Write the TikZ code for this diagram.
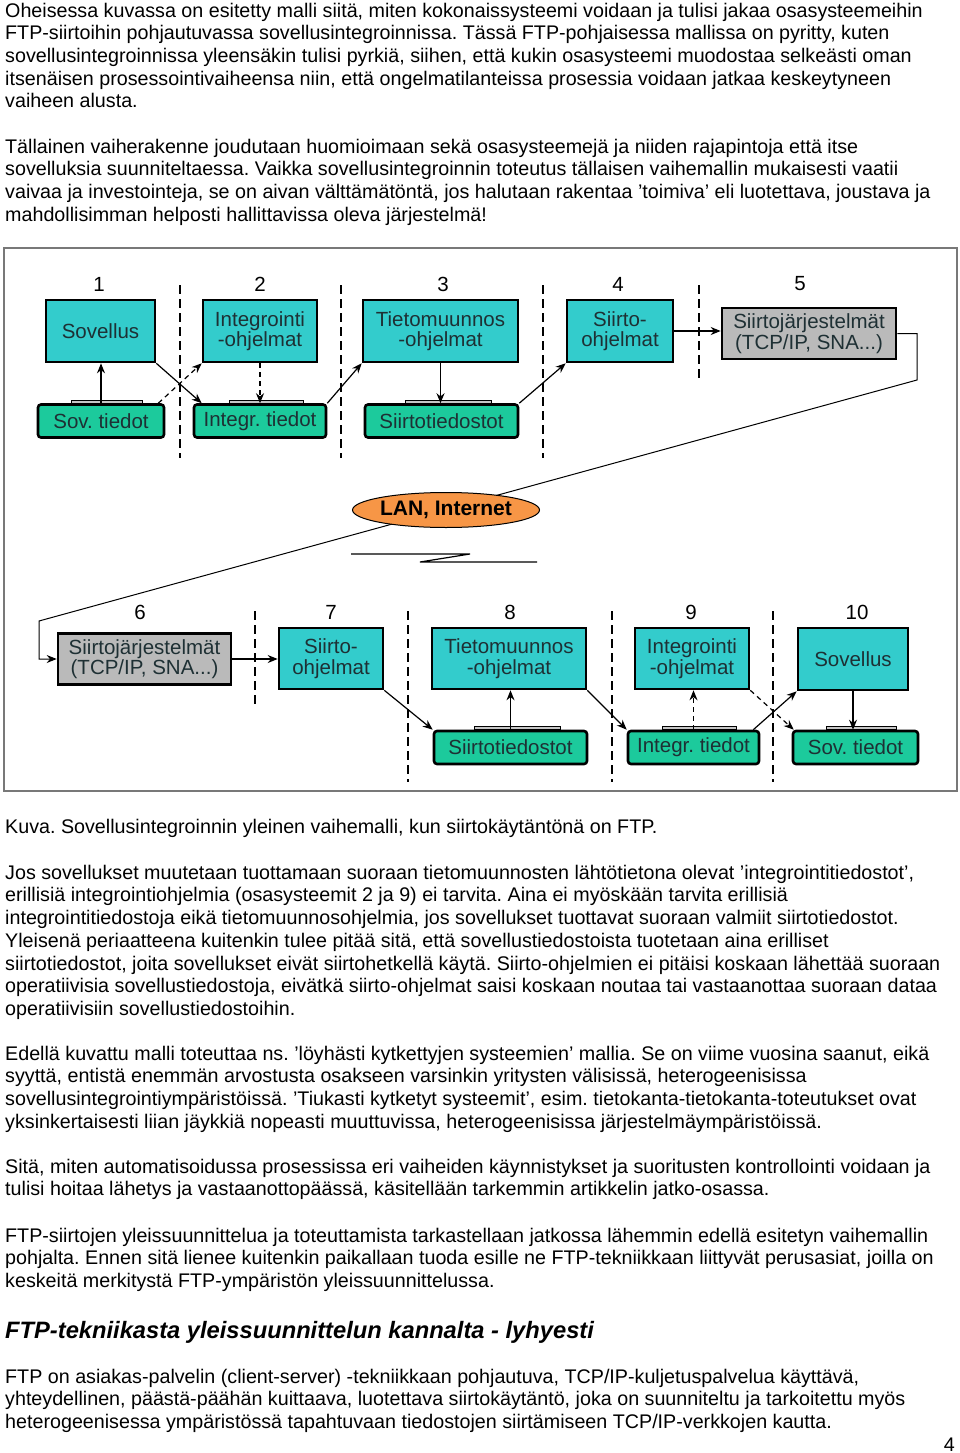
\documentclass[tikz,border=0pt]{standalone}
\usepackage{fontspec}
\setmainfont{Liberation Sans}
\frenchspacing
\usetikzlibrary{positioning, arrows.meta, shapes.geometric, calc}
\definecolor{boxCyan}{RGB}{51, 204, 204}
\definecolor{fileGreen}{RGB}{28, 202, 156}
\definecolor{sysGray}{RGB}{186, 186, 186}
\definecolor{lanOrange}{RGB}{247, 150, 70}
\definecolor{frameGray}{RGB}{120, 120, 120}
\definecolor{boxText}{RGB}{30, 48, 52}
\newcommand{\bodysize}{\fontsize{19.7}{22.7}\selectfont}
\newcommand{\boxsize}{\fontsize{20.5}{20.5}\selectfont}
\tikzset{
    prog_box/.style={
        draw=black,
        line width=2.6pt,
        fill=boxCyan,
        text=boxText,
        font=\boxsize,
        align=center,
        minimum height=62pt,
        inner sep=0pt
    },
    sys_box/.style={
        prog_box,
        fill=sysGray,
        minimum height=51pt
    },
    file_box/.style={
        prog_box,
        fill=fileGreen,
        rounded corners=3pt,
        minimum height=33pt
    },
    file_tab/.style={
        draw=black,
        line width=0.8pt,
        fill=gray!45
    },
    phase_num/.style={
        font=\boxsize,
        text=black,
        inner sep=0pt
    },
    phase_sep/.style={
        draw=black,
        line width=1.3pt,
        dash pattern=on 9pt off 5pt
    },
    flow_edge/.style={
        -{Stealth[length=10pt, width=8pt]},
        line width=1.2pt,
        draw=black
    },
    flow_dashed/.style={
        flow_edge,
        dash pattern=on 5pt off 4pt
    },
    lan_node/.style={
        ellipse,
        draw=black,
        line width=1pt,
        fill=lanOrange,
        minimum width=187pt,
        minimum height=35pt,
        inner sep=0pt,
        font=\fontsize{21}{21}\selectfont\bfseries
    },
    body_text/.style={
        anchor=north west,
        align=left,
        inner sep=0pt,
        font=\bodysize
    }
}

\begin{document}
\begin{tikzpicture}[x=1pt, y=-1pt]
    \useasboundingbox (0,0) rectangle (960,1453);

    \node[body_text] (p1) at (5,1.1) {\strut Oheisessa kuvassa on esitetty malli siitä, miten kokonaissysteemi voidaan ja tulisi jakaa osasysteemeihin\\
        FTP-siirtoihin pohjautuvassa sovellusintegroinnissa. Tässä FTP-pohjaisessa mallissa on pyritty, kuten\\
        sovellusintegroinnissa yleensäkin tulisi pyrkiä, siihen, että kukin osasysteemi muodostaa selkeästi oman\\
        itsenäisen prosessointivaiheensa niin, että ongelmatilanteissa prosessia voidaan jatkaa keskeytyneen\\
        vaiheen alusta.};
    \node[body_text] (p2) at (5,137.1) {\strut Tällainen vaiherakenne joudutaan huomioimaan sekä osasysteemejä ja niiden rajapintoja että itse\\
        sovelluksia suunniteltaessa. Vaikka sovellusintegroinnin toteutus tällaisen vaihemallin mukaisesti vaatii\\
        vaivaa ja investointeja, se on aivan välttämätöntä, jos halutaan rakentaa ’toimiva’ eli luotettava, joustava ja\\
        mahdollisimman helposti hallittavissa oleva järjestelmä!};

    \draw[frameGray, line width=1.2pt] (4,248) rectangle (957,791);

    \foreach \x/\y/\t in {99/284/1, 260/284/2, 443/284/3, 618/284/4, 800/284/5,
                          140/612/6, 331/612/7, 510/612/8, 691/612/9, 857/612/10}
        \node[phase_num] (num\t) at (\x,\y) {\t};

    \foreach \x/\ya/\yb in {180/285/458, 341/285/458, 543/285/458, 699/285/378,
                            255/611/705, 408/611/782, 612/611/782, 773/611/782}
        \draw[phase_sep] (\x,\ya) -- (\x,\yb);

    \node[prog_box, minimum width=109pt] (sov1) at (100.5,331) {Sovellus};
    \node[prog_box, minimum width=114pt] (int2) at (260,331) {Integrointi\\-ohjelmat};
    \node[prog_box, minimum width=155pt] (tm3) at (440.5,331) {Tietomuunnos\\-ohjelmat};
    \node[prog_box, minimum width=106pt] (sii4) at (620,331) {Siirto-\\ohjelmat};
    \node[sys_box, minimum width=174pt] (sj5) at (809,333.5) {Siirtojärjestelmät\\(TCP/IP, SNA...)};

    \node[file_box, minimum width=126pt] (sovf1) at (101,421) {Sov. tiedot};
    \node[file_box, minimum width=132pt] (intf2) at (260,421) {Integr. tiedot};
    \node[file_box, minimum width=153pt] (siif3) at (441.5,421) {Siirtotiedostot};

    \node[sys_box, minimum width=173pt] (sj6) at (144.5,659) {Siirtojärjestelmät\\(TCP/IP, SNA...)};
    \node[prog_box, minimum width=104pt, minimum height=61pt] (sii7) at (331,658.5) {Siirto-\\ohjelmat};
    \node[prog_box, minimum width=154pt, minimum height=61pt] (tm8) at (509,658.5) {Tietomuunnos\\-ohjelmat};
    \node[prog_box, minimum width=114pt, minimum height=61pt] (int9) at (692,658.5) {Integrointi\\-ohjelmat};
    \node[prog_box, minimum width=110pt] (sov10) at (853,659) {Sovellus};

    \node[file_box, minimum width=153pt] (siif8) at (510.5,747.5) {Siirtotiedostot};
    \node[file_box, minimum width=131pt] (intf9) at (693.5,747.5) {Integr. tiedot};
    \node[file_box, minimum width=125pt] (sovf10) at (855.5,747.5) {Sov. tiedot};

    \foreach \f in {sovf1, intf2, siif3, siif8, intf9, sovf10}
        \draw[file_tab] ($(\f.north west)!0.27!(\f.north east)$) rectangle ($(\f.north west)!0.82!(\f.north east) + (0,-3)$);

    \path
        (sovf1.north) edge[flow_edge] (sovf1.north |- sov1.south)
        (sov1.south east) edge[flow_edge] ([xshift=9pt]intf2.north west)
        (intf2.north east) edge[flow_edge] (tm3.south west)
        (tm3.south) edge[flow_edge] (tm3.south |- siif3.north)
        (siif3.north east) edge[flow_edge] (sii4.south west)
        (sii4.east) edge[flow_edge] (sii4.east -| sj5.west)
        (sj6.east) edge[flow_edge] (sj6.east -| sii7.west)
        (sii7.south east) edge[flow_edge] (siif8.north west)
        (siif8.north) edge[flow_edge] (siif8.north |- tm8.south)
        (tm8.south east) edge[flow_edge] (intf9.north west)
        ([xshift=-7pt]intf9.north east) edge[flow_edge] (sov10.south west)
        (sov10.south) edge[flow_edge] (sov10.south |- sovf10.north);

    \path
        ([xshift=-7pt]sovf1.north east) edge[flow_dashed] (int2.south west)
        (int2.south) edge[flow_dashed] (int2.south |- intf2.north)
        (intf9.north) edge[flow_dashed] (intf9.north |- int9.south)
        (int9.south east) edge[flow_dashed] ([xshift=2pt]sovf10.north west);

    \coordinate (wanTop) at (917,380);
    \coordinate (wanBot) at (39,621);
    \draw[flow_edge, line width=1pt] (sj5.east) -| (wanTop) -- (wanBot) |- (sj6.west);

    \node[lan_node] (lan) at (446,510) {LAN, Internet};
    \draw[line width=1.2pt] (351,554) -- (470,554) -- (420,562) -- (537,562);

    \node[body_text] (cap) at (5,817.1) {\strut Kuva. Sovellusintegroinnin yleinen vaihemalli, kun siirtokäytäntönä on FTP.};
    \node[body_text] (p3) at (5,863.1) {\strut Jos sovellukset muutetaan tuottamaan suoraan tietomuunnosten lähtötietona olevat ’integrointitiedostot’,\\
        erillisiä integrointiohjelmia (osasysteemit 2 ja 9) ei tarvita. Aina ei myöskään tarvita erillisiä\\
        integrointitiedostoja eikä tietomuunnosohjelmia, jos sovellukset tuottavat suoraan valmiit siirtotiedostot.\\
        Yleisenä periaatteena kuitenkin tulee pitää sitä, että sovellustiedostoista tuotetaan aina erilliset\\
        siirtotiedostot, joita sovellukset eivät siirtohetkellä käytä. Siirto-ohjelmien ei pitäisi koskaan lähettää suoraan\\
        operatiivisia sovellustiedostoja, eivätkä siirto-ohjelmat saisi koskaan noutaa tai vastaanottaa suoraan dataa\\
        operatiivisiin sovellustiedostoihin.};
    \node[body_text] (p4) at (5,1044.1) {\strut Edellä kuvattu malli toteuttaa ns. ’löyhästi kytkettyjen systeemien’ mallia. Se on viime vuosina saanut, eikä\\
        syyttä, entistä enemmän arvostusta osakseen varsinkin yritysten välisissä, heterogeenisissa\\
        sovellusintegrointiympäristöissä. ’Tiukasti kytketyt systeemit’, esim. tietokanta-tietokanta-toteutukset ovat\\
        yksinkertaisesti liian jäykkiä nopeasti muuttuvissa, heterogeenisissa järjestelmäympäristöissä.};
    \node[body_text] (p5) at (5,1157.1) {\strut Sitä, miten automatisoidussa prosessissa eri vaiheiden käynnistykset ja suoritusten kontrollointi voidaan ja\\
        tulisi hoitaa lähetys ja vastaanottopäässä, käsitellään tarkemmin artikkelin jatko-osassa.};
    \node[body_text] (p6) at (5,1226.1) {\strut FTP-siirtojen yleissuunnittelua ja toteuttamista tarkastellaan jatkossa lähemmin edellä esitetyn vaihemallin\\
        pohjalta. Ennen sitä lienee kuitenkin paikallaan tuoda esille ne FTP-tekniikkaan liittyvät perusasiat, joilla on\\
        keskeitä merkitystä FTP-ympäristön yleissuunnittelussa.};
    \node[anchor=base west, inner sep=0pt, font=\fontsize{23.7}{28}\selectfont\bfseries\itshape] (head) at (5,1338) {FTP-tekniikasta yleissuunnittelun kannalta - lyhyesti};
    \node[body_text] (p7) at (5,1367.1) {\strut FTP on asiakas-palvelin (client-server) -tekniikkaan pohjautuva, TCP/IP-kuljetuspalvelua käyttävä,\\
        yhteydellinen, päästä-päähän kuittaava, luotettava siirtokäytäntö, joka on suunniteltu ja tarkoitettu myös\\
        heterogeenisessa ympäristössä tapahtuvaan tiedostojen siirtämiseen TCP/IP-verkkojen kautta.};
    \node[anchor=base east, inner sep=0pt, font=\bodysize] (pnum) at (955,1451) {4};
\end{tikzpicture}
\end{document}
